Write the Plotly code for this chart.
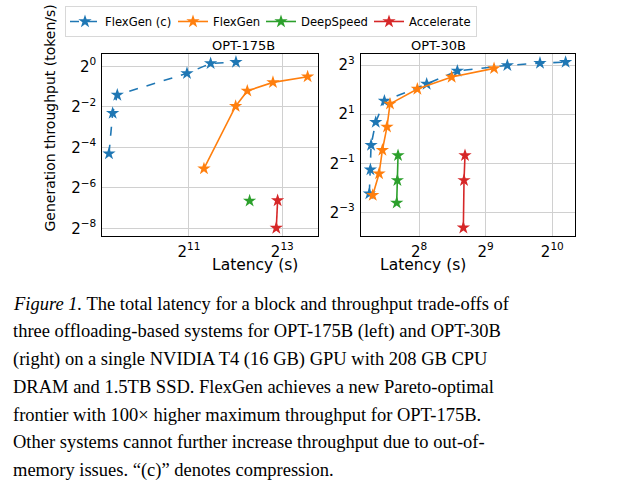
import plotly.graph_objects as go
import math

W, H = 637, 486

# ---- data (latency in s, throughput in token/s) ----
# OPT-175B
l175_flexc_lat = [624, 659, 706, 1988, 2825, 4116]
l175_flexc_thr = [0.0504, 0.2015, 0.376, 0.788, 1.108, 1.159]
l175_flex_lat = [2558, 4096, 4871, 7132, 11936]
l175_flex_thr = [0.0302, 0.256, 0.4316, 0.579, 0.703]
l175_ds_lat = [5042]
l175_ds_thr = [0.01003]
l175_acc_lat = [7643, 7492]
l175_acc_thr = [0.01014, 0.00395]
# OPT-30B
l30_flexc_lat = [152.7, 154.4, 155.5, 163.2, 178.6, 277.2, 381.4, 641.5, 900.8, 1176]
l30_flexc_thr = [0.213, 0.419, 0.837, 1.598, 2.91, 4.69, 6.76, 7.92, 8.46, 8.69]
l30_flex_lat = [158.2, 169, 174.9, 183.5, 189.3, 251.6, 359.5, 558.7]
l30_flex_thr = [0.2035, 0.3746, 0.727, 1.40, 2.674, 4.075, 5.71, 7.28]
l30_ds_lat = [205.8, 204.4, 203.0]
l30_ds_thr = [0.626, 0.31, 0.164]
l30_acc_lat = [413, 408.8, 406]
l30_acc_thr = [0.626, 0.31, 0.0812]

names = ["FlexGen (c)", "FlexGen", "DeepSpeed", "Accelerate"]
colors = ["#1f77b4", "#ff7f0e", "#2ca02c", "#d62728"]
dashes = ["dash", "solid", "solid", "solid"]
legend_widths = [63, 43, 63, 62]

left_xticks = [11, 13]
left_yticks = [0, -2, -4, -6, -8]
right_xticks = [8, 9, 10]
right_yticks = [3, 1, -1, -3]

caption = [
    "<i>Figure 1.</i> The total latency for a block and throughput trade-offs of",
    "three offloading-based systems for OPT-175B (left) and OPT-30B",
    "(right) on a single NVIDIA T4 (16 GB) GPU with 208 GB CPU",
    "DRAM and 1.5TB SSD. FlexGen achieves a new Pareto-optimal",
    "frontier with 100\u00d7 higher maximum throughput for OPT-175B.",
    "Other systems cannot further increase throughput due to out-of-",
    "memory issues. \u201c(c)\u201d denotes compression.",
]

FONT = "DejaVu Sans"
fig = go.Figure()

left = [(l175_flexc_lat, l175_flexc_thr), (l175_flex_lat, l175_flex_thr),
        (l175_ds_lat, l175_ds_thr), (l175_acc_lat, l175_acc_thr)]
right = [(l30_flexc_lat, l30_flexc_thr), (l30_flex_lat, l30_flex_thr),
         (l30_ds_lat, l30_ds_thr), (l30_acc_lat, l30_acc_thr)]

for i, (x, y) in enumerate(left):
    fig.add_trace(go.Scatter(x=x, y=y, mode="lines+markers", name=names[i],
                             line=dict(color=colors[i], width=1.6, dash=dashes[i]),
                             marker=dict(symbol="star", size=10, color=colors[i]),
                             xaxis="x", yaxis="y", legendgroup=names[i],
                             legendwidth=legend_widths[i]))
for i, (x, y) in enumerate(right):
    fig.add_trace(go.Scatter(x=x, y=y, mode="lines+markers", name=names[i],
                             line=dict(color=colors[i], width=1.6, dash=dashes[i]),
                             marker=dict(symbol="star", size=10, color=colors[i]),
                             xaxis="x2", yaxis="y2", legendgroup=names[i],
                             showlegend=False))

L2 = math.log10(2)

def pw(e):
    s = str(e).replace("-", "\u2212")
    return "2<sup>" + s + "</sup>"

def ax(dom, rng, ticks, anchor):
    return dict(type="log", domain=dom, range=[rng[0] * L2, rng[1] * L2],
                tickvals=[2.0 ** t for t in ticks], ticktext=[pw(t) for t in ticks],
                showgrid=True, gridcolor="#d0d0d0", gridwidth=1,
                showline=True, mirror=True, linecolor="black", linewidth=1,
                ticks="outside", ticklen=2, tickcolor="rgba(0,0,0,0)",
                tickfont=dict(family=FONT, size=15, color="black"),
                zeroline=False, anchor=anchor)

ydom = [1 - 236.7 / H, 1 - 54 / H]
fig.update_layout(
    width=W, height=H, margin=dict(l=0, r=0, t=0, b=0),
    plot_bgcolor="white", paper_bgcolor="white",
    xaxis=ax([102.3 / W, 317.7 / W], [9.142, 13.759], left_xticks, "y"),
    yaxis=ax(ydom, [-8.364, 0.624], left_yticks, "x"),
    xaxis2=ax([360.7 / W, 575.3 / W], [7.125, 10.345], right_xticks, "y2"),
    yaxis2=ax(ydom, [-3.946, 3.459], right_yticks, "x2"),
    showlegend=True,
    legend=dict(orientation="h", x=65 / W, y=1 - 6 / H, xanchor="left", yanchor="top",
                bordercolor="#d8d8d8", borderwidth=1, bgcolor="white",
                font=dict(family=FONT, size=11.6, color="black"), itemwidth=30),
)

ann = []
ann.append(dict(text="OPT-175B", x=(102.3 + 317.7) / 2 / W, y=1 - 46 / H, xref="paper", yref="paper",
                showarrow=False, font=dict(family=FONT, size=13, color="black"), yanchor="middle"))
ann.append(dict(text="OPT-30B", x=(360.7 + 575.3) / 2 / W, y=1 - 46 / H, xref="paper", yref="paper",
                showarrow=False, font=dict(family=FONT, size=13, color="black"), yanchor="middle"))
for cx in [(102.3 + 317.7) / 2, (360.7 + 575.3) / 2]:
    ann.append(dict(text="Latency (s)", x=cx / W, y=1 - 266 / H, xref="paper", yref="paper",
                    showarrow=False, font=dict(family=FONT, size=15.5, color="black"), yanchor="middle"))
ann.append(dict(text="Generation throughput (token/s)", x=50 / W, y=1 - 119 / H, xref="paper", yref="paper",
                showarrow=False, textangle=-90, font=dict(family=FONT, size=14, color="black"),
                xanchor="center", yanchor="middle"))
for k, line in enumerate(caption):
    yc = 305 + k * 27.85
    ann.append(dict(text=line, x=11 / W, y=1 - yc / H, xref="paper", yref="paper",
                    showarrow=False, xanchor="left", yanchor="middle", align="left",
                    font=dict(family="Liberation Serif", size=18.5, color="black")))
fig.update_layout(annotations=ann)

fig.write_html("out.html", config={"displayModeBar": False},
               post_script="document.body.style.margin='0px';")
